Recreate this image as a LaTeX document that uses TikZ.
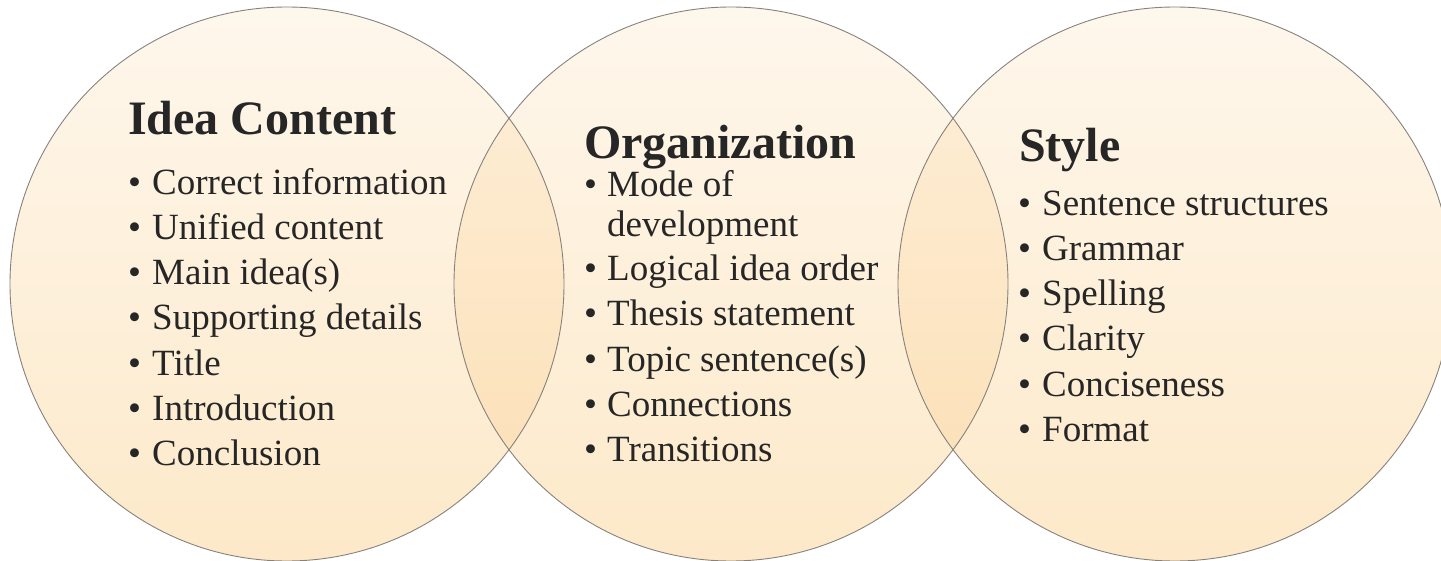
\documentclass[tikz,border=0pt]{standalone}
\usepackage{fontspec}
\setmainfont{Liberation Serif}
\definecolor{ctop}{RGB}{254,247,236}
\definecolor{cbot}{RGB}{253,233,201}
\definecolor{otop}{RGB}{253,240,219}
\definecolor{obot}{RGB}{252,222,178}
\definecolor{edge}{RGB}{135,130,125}
\definecolor{txt}{RGB}{38,38,38}
\tikzset{
  circfill/.style={top color=ctop,bottom color=cbot},
  overfill/.style={top color=otop,bottom color=obot},
  circedge/.style={draw=edge,line width=0.9pt},
  ttl/.style={anchor=base west,inner sep=0pt,text=txt,font=\fontsize{48}{56}\selectfont\bfseries},
  itm/.style={anchor=base west,inner sep=0pt,text=txt,font=\fontsize{37}{45}\selectfont},
}
\begin{document}
\begin{tikzpicture}[x=1pt,y=-1pt]
\useasboundingbox (0,0) rectangle (1441,561);
\coordinate (c1) at (287,284);
\coordinate (c2) at (731,284);
\coordinate (c3) at (1175,284);
\def\R{277}
% fills
\shade[circfill] (c1) circle (\R);
\shade[circfill] (c2) circle (\R);
\shade[circfill] (c3) circle (\R);
\begin{scope}
  \clip (c1) circle (\R);
  \shade[overfill] (c2) circle (\R);
\end{scope}
\begin{scope}
  \clip (c3) circle (\R);
  \shade[overfill] (c2) circle (\R);
\end{scope}
% outlines
\draw[circedge] (c1) circle (\R);
\draw[circedge] (c2) circle (\R);
\draw[circedge] (c3) circle (\R);
% Idea Content
\node[ttl] (t1) at (128,135) {Idea Content};
\foreach \y/\t [count=\i] in {195/Correct information,240/Unified content,285/Main idea(s),330/Supporting details,375/Title,420/Introduction,465/Conclusion}{
  \node[itm] (a\i) at (128,\y) {•};
  \node[itm] (at\i) at (152,\y) {\t};
}
% Organization
\node[ttl] (t2) at (584,159) {Organization};
\node[itm] (b1) at (584,197) {•};
\node[itm] (bt1) at (607,197) {Mode of};
\node[itm] (bt1b) at (607,237) {development};
\foreach \y/\t [count=\i from 2] in {281/Logical idea order,326/Thesis statement,371/Topic sentence(s),416/Connections,461/Transitions}{
  \node[itm] (b\i) at (584,\y) {•};
  \node[itm] (bt\i) at (607,\y) {\t};
}
% Style
\node[ttl] (t3) at (1019,162) {Style};
\foreach \y/\t [count=\i] in {216/Sentence structures,261/Grammar,306/Spelling,351/Clarity,396/Conciseness,441/Format}{
  \node[itm] (c\i) at (1018,\y) {•};
  \node[itm] (ct\i) at (1042,\y) {\t};
}
\end{tikzpicture}
\end{document}
